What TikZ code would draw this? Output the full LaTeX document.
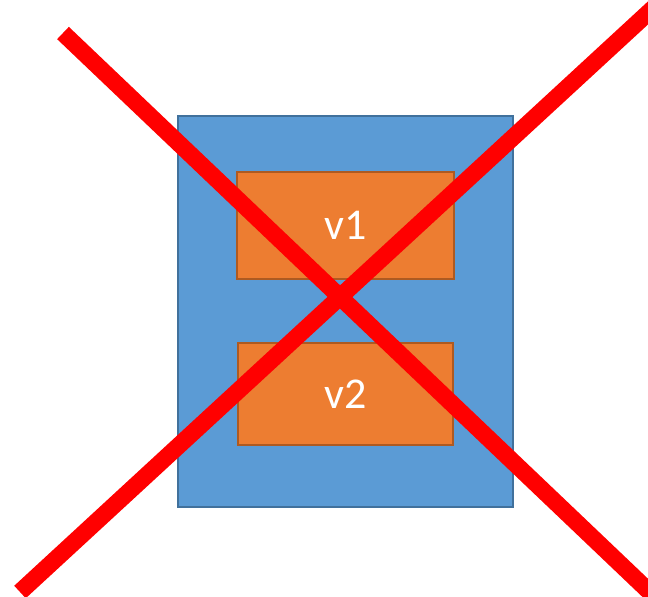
\documentclass[tikz,border=0pt]{standalone}
\usepackage{fontspec}
\setmainfont{Carlito}
\usetikzlibrary{positioning}

\definecolor{boxblue}{HTML}{5B9BD5}
\definecolor{boxblueline}{HTML}{41719C}
\definecolor{boxorange}{HTML}{ED7D31}
\definecolor{boxorangeline}{HTML}{AE5A21}

\tikzset{
    outerbox/.style={draw=boxblueline, fill=boxblue, line width=2pt, minimum width=335pt, minimum height=391pt},
    innerbox/.style={draw=boxorangeline, fill=boxorange, line width=2pt, text=white, font=\fontsize{44}{52}\selectfont},
    crossline/.style={draw=red, line width=17pt}
}

\begin{document}
\begin{tikzpicture}[x=1pt, y=-1pt, inner sep=0pt, outer sep=0pt]
        \useasboundingbox (0,0) rectangle (648,597);
        \clip (0,0) rectangle (648,597);

        \node [outerbox] (frame) at (345.5,311.5) {};
        \node [innerbox, minimum width=217pt, minimum height=107pt] (v1) at (345.5,225.5) {\raisebox{-4pt}{v1}};
        \node [innerbox, minimum width=215pt, minimum height=102pt] (v2) at (345.5,394) {\raisebox{-4pt}{v2}};

        % the cross over everything
        \coordinate (tl) at (63,33);
        \coordinate (br) at (700,640);
        \coordinate (bl) at (20,592);
        \coordinate (tr) at (700,-35);
        \draw [crossline] (tl) -- (br);
        \draw [crossline] (bl) -- (tr);
    \end{tikzpicture}
\end{document}
